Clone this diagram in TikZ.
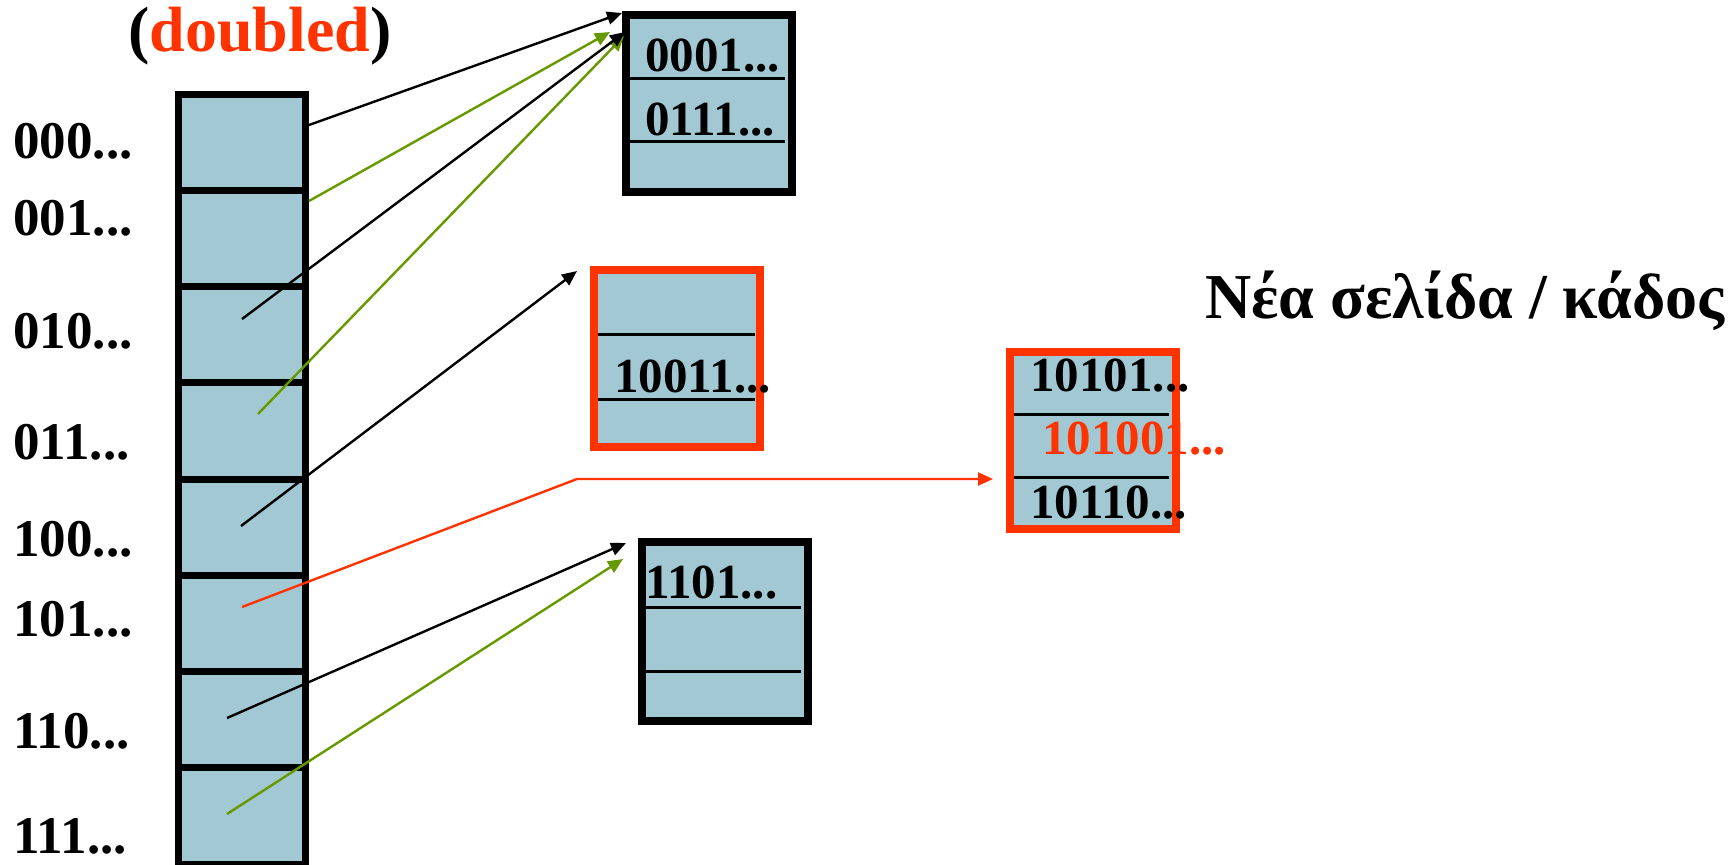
\documentclass[tikz,border=0pt]{standalone}
\usepackage{fontspec}
\setmainfont{Liberation Serif}
\usetikzlibrary{arrows.meta}
\definecolor{cellblue}{HTML}{A2C9D3}
\definecolor{hotred}{HTML}{FF3300}
\definecolor{leafgreen}{HTML}{669900}

\begin{document}
\begin{tikzpicture}[x=0.5pt,y=-0.5pt,
  cell/.style={draw=black,line width=3.5pt,fill=cellblue,inner sep=0pt,outer sep=0pt,
               minimum width=63.5pt,minimum height=48.125pt},
  bucket/.style={fill=cellblue,inner sep=0pt,outer sep=0pt,
                 minimum width=83pt,minimum height=88.5pt},
  frameblack/.style={draw=black,line width=4pt},
  framered/.style={draw=hotred,line width=4pt},
  divider/.style={draw=black,line width=1.5pt},
  lbl/.style={anchor=base west,inner sep=0pt,font=\fontsize{26.5}{30}\selectfont\bfseries},
  key/.style={anchor=base west,inner sep=0pt,font=\fontsize{24.5}{28}\selectfont\bfseries},
  ptr/.style={line width=1.2pt,-{Triangle[length=7.5pt,width=6.5pt]}},
]
\useasboundingbox (0,0) rectangle (1733,864);

% directory cells
\foreach \i in {0,...,7}
  \node[cell] (c\i) at (242,{94+96.25*(\i+0.5)}) {};

% directory labels
\node[lbl] (l0) at (13,158) {000...};
\node[lbl] (l1) at (13,235) {001...};
\node[lbl] (l2) at (13,348) {010...};
\node[lbl] (l3) at (13,459) {011...};
\node[lbl] (l4) at (13,556) {100...};
\node[lbl] (l5) at (13,636) {101...};
\node[lbl] (l6) at (13,748) {110...};
\node[lbl] (l7) at (13,853) {111...};

% title over the directory
\node[anchor=base west,inner sep=0pt,font=\fontsize{32}{36}\selectfont\bfseries] (dbl) at (128,51)
  {(\textcolor{hotred}{doubled})};

% bucket A
\node[bucket] (bA) at (709,103.5) {};
\draw[divider] (630,78) -- (785,78);
\draw[divider] (630,141) -- (785,141);
\draw[frameblack] (bA.north west) rectangle (bA.south east);
\node[key] (a1) at (645,71) {0001...};
\node[key] (a2) at (645,135) {0111...};

% bucket B
\node[bucket] (bB) at (676.5,358.5) {};
\draw[divider] (594,334) -- (755,334);
\draw[divider] (594,399) -- (755,399);
\draw[framered] (bB.north west) rectangle (bB.south east);
\node[key] (b1) at (614,392) {10011...};

% bucket C
\node[bucket,minimum height=89.5pt] (bC) at (725,631.5) {};
\draw[divider] (644,607) -- (801,607);
\draw[divider] (644,671) -- (801,671);
\draw[frameblack] (bC.north west) rectangle (bC.south east);
\node[key] (k1) at (645,598) {1101...};

% new bucket D
\node[bucket] (bD) at (1093,440.5) {};
\draw[divider] (1011,414) -- (1169,414);
\draw[divider] (1011,477) -- (1169,477);
\node[key,text=hotred] (d2) at (1042,454) {101001...};
\draw[framered] (bD.north west) rectangle (bD.south east);
\node[key] (d1) at (1030,391) {10101...};
\node[key] (d3) at (1030,518) {10110...};

\node[anchor=base west,inner sep=0pt,font=\fontsize{32}{36}\selectfont\bfseries] (newpg) at (1205,318)
  {Νέα σελίδα / κάδος};

% pointer end points
\coordinate (s0) at (309,125);
\coordinate (s1) at (309,201);
\coordinate (s2) at (242,319);
\coordinate (s3) at (258,414);
\coordinate (s4) at (241,526);
\coordinate (s5) at (242,607);
\coordinate (s6) at (227,718);
\coordinate (s7) at (227,814);
\coordinate (t0) at (622,13);
\coordinate (t1) at (610,32);
\coordinate (t2) at (625,32);
\coordinate (t3) at (624,36);
\coordinate (t4) at (577,271);
\coordinate (bend) at (577,479);
\coordinate (t5) at (993,479);
\coordinate (t6) at (626,543);
\coordinate (t7) at (623,559);

% pointers
\draw[ptr,leafgreen] (s3) -- (t3);
\draw[ptr,black] (s0) -- (t0);
\draw[ptr,leafgreen] (s1) -- (t1);
\draw[ptr,black] (s2) -- (t2);
\draw[ptr,black] (s4) -- (t4);
\draw[ptr,hotred] (s5) -- (bend) -- (t5);
\draw[ptr,black] (s6) -- (t6);
\draw[ptr,leafgreen] (s7) -- (t7);
\end{tikzpicture}
\end{document}
